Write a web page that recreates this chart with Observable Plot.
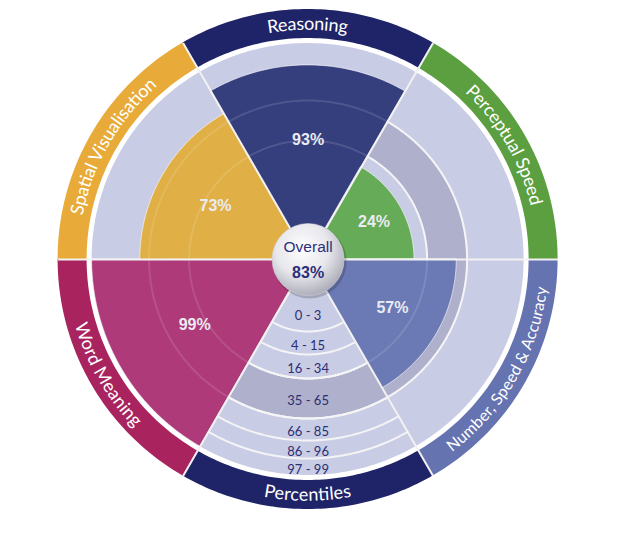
<!DOCTYPE html>
<html>
<head>
<meta charset="utf-8">
<script src="https://cdn.jsdelivr.net/npm/d3@7"></script>
<script src="https://cdn.jsdelivr.net/npm/@observablehq/plot@0.6"></script>
<style>
  body { margin: 0; background: #ffffff; }
  #chart { width: 620px; height: 542px; }
</style>
</head>
<body>
<div id="chart"></div>
<script>
// ---------------- data ----------------
const categories = ["Reasoning", "Perceptual Speed", "Number, Speed & Accuracy", "Percentiles", "Word Meaning", "Spatial Visualisation"];
const scores = [93, 24, 57, null, 99, 73];
const bandColors = ["#1f2468", "#5b9f40", "#6573b0", "#1f2468", "#a9245f", "#e8ab39"];
const wedgeColors = ["#363f7e", "#65ab58", "#6b7ab5", null, "#ae3a79", "#e0b046"];
const percentileLabels = ["0 - 3", "4 - 15", "16 - 34", "35 - 65", "66 - 85", "86 - 96", "97 - 99"];
const percentileBreaks = [0, 3, 15, 34, 65, 85, 96, 99];
const overallLabel = "Overall";
const overallScore = 83;

// ---------------- layout ----------------
const W = 620, H = 542, CX = 307.6, CY = 259;
const R_INNER = 36, R_BG = 216, R_BAND0 = 221, R_BAND1 = 250, R_TEXT = 235.5;
const bandRadii = [R_INNER, 72, 95, 119, 159, 181, 199, R_BG];
const rScale = d3.scaleLinear().domain(percentileBreaks).range(bandRadii).clamp(true);
const lavender = "#c9cce5", lavenderDark = "#aeb0cc", navyText = "#2b2f72";

const rad = d => d * Math.PI / 180;
const px = (r, a) => r * Math.sin(rad(a));
const py = (r, a) => -r * Math.cos(rad(a));
function ring(id, a0, a1, r0, r1, fill) {
  const n = Math.max(2, Math.ceil(Math.abs(a1 - a0)) + 1);
  return d3.range(n).map(k => {
    const a = a0 + (a1 - a0) * k / (n - 1);
    return {id, fill, x1: px(r0, a), y1: py(r0, a), x2: px(r1, a), y2: py(r1, a)};
  });
}
function arc(id, a0, a1, r) {
  const n = Math.max(2, Math.ceil(Math.abs(a1 - a0)) + 1);
  return d3.range(n).map(k => {
    const a = a0 + (a1 - a0) * k / (n - 1);
    return {id, x: px(r, a), y: py(r, a)};
  });
}

const sectors = categories.map((name, i) => {
  const a = i * 60;
  return {name, i, a, a0: a - 30, a1: a + 30, score: scores[i], band: bandColors[i], wedge: wedgeColors[i]};
});
const pct = sectors[categories.indexOf("Percentiles")];

const bandData = sectors.flatMap(s => ring("band" + s.i, s.a0, s.a1, R_BAND0, R_BAND1, s.band));
const bgData = ring("bg", 0, 360, 0, R_BG, lavender);
const avgData = ring("avg", 0, 360, rScale(34), rScale(65), lavenderDark);
const avgLines = [34, 65].flatMap(v => arc("c" + v, 0, 360, rScale(v)));
const pctLines = percentileBreaks.slice(1, -1).flatMap(v => arc("p" + v, pct.a0, pct.a1, rScale(v)));
const wedgeData = sectors.filter(s => s.score != null).flatMap(s => ring("w" + s.i, s.a0, s.a1, 0, rScale(s.score), s.wedge));
const faintLines = [34, 65].flatMap(v => arc("f" + v, 0, 360, rScale(v)));
const separators = sectors.map(s => ({x1: px(R_INNER, s.a0), y1: py(R_INNER, s.a0), x2: px(R_BAND1, s.a0), y2: py(R_BAND1, s.a0)}));
const scoreLabels = sectors.filter(s => s.score != null).map(s => {
  const r = (rScale(s.score) + R_INNER) / 2 + 5;
  return {x: px(r, s.a), y: py(r, s.a), text: s.score + "%"};
});
const pctTextData = percentileLabels.map((t, k) => {
  const r = (rScale(percentileBreaks[k]) + rScale(percentileBreaks[k + 1])) / 2 + 2.5;
  return {x: px(r, pct.a), y: py(r, pct.a), text: t};
});
// label arcs: clockwise on the top half, counter-clockwise on the bottom half
const labelArcs = sectors.map(s => {
  const top = Math.cos(rad(s.a)) > 0;
  return {name: s.name, pts: top ? arc("L" + s.i, s.a0, s.a1, R_TEXT) : arc("L" + s.i, s.a1, s.a0, R_TEXT)};
});

const defsMark = () => {
  const defs = d3.create("svg:defs");
  const g = defs.append("radialGradient").attr("id", "overallGrad")
    .attr("cx", "42%").attr("cy", "35%").attr("r", "68%");
  g.append("stop").attr("offset", "0%").attr("stop-color", "#ffffff");
  g.append("stop").attr("offset", "55%").attr("stop-color", "#e6e6ec");
  g.append("stop").attr("offset", "100%").attr("stop-color", "#a9a9b6");
  return defs.node();
};

const chart = Plot.plot({
  width: W, height: H, margin: 0,
  x: {domain: [-CX, W - CX], range: [0, W], axis: null},
  y: {domain: [-CY, H - CY], range: [0, H], axis: null},
  color: {type: "identity"},
  style: {background: "#ffffff"},
  marks: [
    defsMark,
    Plot.area(bandData, {x1: "x1", y1: "y1", x2: "x2", y2: "y2", z: "id", fill: "fill"}),
    Plot.area(bgData, {x1: "x1", y1: "y1", x2: "x2", y2: "y2", z: "id", fill: "fill"}),
    Plot.area(avgData, {x1: "x1", y1: "y1", x2: "x2", y2: "y2", z: "id", fill: "fill"}),
    Plot.line(avgLines, {x: "x", y: "y", z: "id", stroke: "#f4f4f4", strokeWidth: 2}),
    Plot.line(pctLines, {x: "x", y: "y", z: "id", stroke: "#f4f4f4", strokeWidth: 2}),
    Plot.area(wedgeData, {x1: "x1", y1: "y1", x2: "x2", y2: "y2", z: "id", fill: "fill", stroke: "#ffffff", strokeOpacity: 0.6, strokeWidth: 1}),
    Plot.line(faintLines, {x: "x", y: "y", z: "id", stroke: "#ffffff", strokeOpacity: 0.12, strokeWidth: 2}),
    Plot.link(separators, {x1: "x1", y1: "y1", x2: "x2", y2: "y2", stroke: "#f2f2f2", strokeWidth: 2}),
    Plot.text(scoreLabels, {x: "x", y: "y", text: "text", fill: "#ebebf3", fontFamily: "Liberation Sans, Arial, sans-serif", fontWeight: "bold", fontSize: 16}),
    Plot.text(pctTextData, {x: "x", y: "y", text: "text", fill: navyText, fontFamily: "Lato, sans-serif", fontSize: 13}),
    Plot.dot([{x: 0, y: 0}], {x: "x", y: "y", r: R_INNER + 1, fill: "#000000", fillOpacity: 0.18, dx: 1.5, dy: 2}),
    Plot.dot([{x: 0, y: 0}], {x: "x", y: "y", r: R_INNER, fill: "url(#overallGrad)", stroke: "#d8d8de", strokeWidth: 0.5}),
    Plot.text([{x: 0, y: -12, t: overallLabel}], {x: "x", y: "y", text: "t", fill: "#2d2f7a", fontFamily: "Liberation Sans, Arial, sans-serif", fontSize: 15.5}),
    Plot.text([{x: 0, y: 13, t: overallScore + "%"}], {x: "x", y: "y", text: "t", fill: "#2d2f7a", fontFamily: "Liberation Sans, Arial, sans-serif", fontWeight: "bold", fontSize: 16})
  ]
});
document.getElementById("chart").appendChild(chart);

// curved band labels: arcs mapped through the plot's own x / y scales
const svgNode = chart.tagName.toLowerCase() === "svg" ? chart : chart.querySelector("svg");
const svg = d3.select(svgNode);
const sx = chart.scale("x"), sy = chart.scale("y");
const fx = d3.scaleLinear(sx.domain, sx.range);
const fy = d3.scaleLinear(sy.domain, sy.range);
const lineGen = d3.line().x(d => fx(d.x)).y(d => fy(d.y));
const defs = svg.append("defs");
const ctx = document.createElement("canvas").getContext("2d");
const lg = svg.append("g").attr("aria-label", "band labels");
labelArcs.forEach((L, i) => {
  const id = "bandpath" + i;
  defs.append("path").attr("id", id).attr("d", lineGen(L.pts));
  ctx.font = "18px Lato";
  const w = ctx.measureText(L.name).width;
  const fs = w > 190 ? 18 * 192 / w : 18;
  const tp = lg.append("text")
    .attr("font-family", "Lato, sans-serif")
    .attr("font-size", fs)
    .attr("fill", "#ffffff")
    .attr("dy", "0.35em")
    .append("textPath")
    .attr("href", "#" + id)
    .attr("startOffset", "50%")
    .attr("text-anchor", "middle")
    .text(L.name);
  tp.node().setAttributeNS("http://www.w3.org/1999/xlink", "xlink:href", "#" + id);
});
</script>
</body>
</html>
